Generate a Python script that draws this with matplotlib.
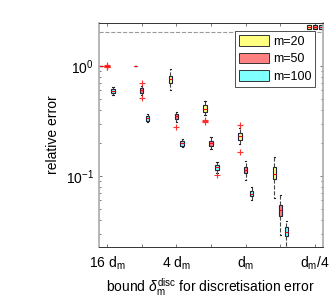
import numpy as np
import matplotlib
matplotlib.use('Agg')
import matplotlib.pyplot as plt
from matplotlib.patches import Patch
from matplotlib.ticker import FixedLocator, NullFormatter

plt.rcParams['font.family'] = ['Liberation Sans', 'DejaVu Sans']
plt.rcParams['mathtext.fontset'] = 'custom'
plt.rcParams['mathtext.rm'] = 'Liberation Sans'
plt.rcParams['mathtext.it'] = 'Liberation Sans:italic'

# discretisation bounds (groups) and labels
groups = ['16 d_m', '8 d_m', '4 d_m', '2 d_m', 'd_m', 'd_m/2', 'd_m/4']
xticklabels = ['16 d$_\\mathregular{m}$', '', '4 d$_\\mathregular{m}$', '',
               'd$_\\mathregular{m}$', '', 'd$_\\mathregular{m}$/4']
series = ['m=20', 'm=50', 'm=100']
colors = ['#ffff80', '#ff8080', '#80ffff']

# box statistics, last group lies in the compressed zone
m20_q1 = [1.0, 1.0, 0.705, 0.380, 0.212, 0.0933, 2.15]
m20_med = [1.0, 1.0, 0.757, 0.410, 0.230, 0.104, 2.25]
m20_q3 = [1.0, 1.0, 0.811, 0.442, 0.248, 0.120, 2.35]
m20_lo = [1.0, 1.0, 0.605, 0.358, 0.195, 0.0628, 2.15]
m20_hi = [1.0, 1.0, 0.939, 0.484, 0.273, 0.148, 2.35]
m20_out = [[], [], [], [0.31, 0.315, 0.32], [0.291, 0.165], [], []]

m50_q1 = [1.0, 0.572, 0.330, 0.188, 0.107, 0.0435, 2.15]
m50_med = [1.0, 0.603, 0.348, 0.199, 0.114, 0.049, 2.25]
m50_q3 = [1.0, 0.635, 0.366, 0.210, 0.1215, 0.0545, 2.35]
m50_lo = [1.0, 0.545, 0.312, 0.178, 0.0921, 0.0291, 2.15]
m50_hi = [1.0, 0.658, 0.384, 0.225, 0.138, 0.0672, 2.35]
m50_out = [[0.98, 0.99, 1.0, 1.01, 1.02], [0.696, 0.508], [0.277], [], [], [], []]

m100_q1 = [0.574, 0.318, 0.189, 0.1135, 0.0658, 0.0287, 2.15]
m100_med = [0.596, 0.335, 0.198, 0.120, 0.069, 0.031, 2.25]
m100_q3 = [0.618, 0.351, 0.208, 0.126, 0.0731, 0.0342, 2.35]
m100_lo = [0.545, 0.308, 0.183, 0.107, 0.0605, 0.0225, 2.15]
m100_hi = [0.651, 0.366, 0.217, 0.134, 0.0794, 0.039, 2.35]
m100_out = [[], [], [], [0.102], [], [], []]

data_lim = 2.05

all_stats = [
    (m20_q1, m20_med, m20_q3, m20_lo, m20_hi, m20_out),
    (m50_q1, m50_med, m50_q3, m50_lo, m50_hi, m50_out),
    (m100_q1, m100_med, m100_q3, m100_lo, m100_hi, m100_out),
]
offsets = [-0.17, 0.0, 0.17]

fig = plt.figure(figsize=(3.32, 3.04), dpi=100)
ax = fig.add_axes([0.297, 0.1885, 0.676, 0.7345])

pos = np.arange(1, len(groups) + 1)
for (q1, med, q3, lo, hi, out), col, off in zip(all_stats, colors, offsets):
    stats = []
    for i in range(len(groups)):
        stats.append(dict(q1=q1[i], med=med[i], q3=q3[i], whislo=lo[i],
                          whishi=hi[i], fliers=out[i]))
    ax.bxp(stats, positions=pos + off, widths=0.1, patch_artist=True,
           showfliers=True, capwidths=0.04,
           boxprops=dict(facecolor=col, edgecolor='#202040', linewidth=0.8),
           medianprops=dict(color='r', linewidth=0.8),
           whiskerprops=dict(color='#444444', linestyle='--', linewidth=0.8),
           capprops=dict(color='#222222', linewidth=0.8),
           flierprops=dict(marker='+', markeredgecolor='#ff3030',
                           markersize=5, markeredgewidth=0.8))

ax.axhline(data_lim, color='#999999', linestyle='--', linewidth=0.8)

ax.set_yscale('log')
ax.set_ylim(0.0228, 2.44)
ax.set_xlim(0.76, 7.23)
ax.set_xticks(pos)
ax.set_xticklabels(xticklabels, fontsize=10)
ax.yaxis.set_major_locator(FixedLocator([0.1, 1.0]))
minors = [k * 10.0 ** e for e in (-2, -1) for k in range(2, 10)]
ax.yaxis.set_minor_locator(FixedLocator([v for v in minors if v > 0.0228]))
ax.yaxis.set_minor_formatter(NullFormatter())
ax.tick_params(axis='both', which='both', direction='in', top=True,
               right=True, labelsize=10, length=2.5, width=0.5,
               color='#444444')
ax.tick_params(axis='y', which='minor', length=1.5)
ax.tick_params(axis='x', pad=6)

for side in ['left', 'right']:
    ax.spines[side].set_color('#aaaaaa')
    ax.spines[side].set_linewidth(1.2)
for side in ['top', 'bottom']:
    ax.spines[side].set_color('#333333')
    ax.spines[side].set_linewidth(0.7)

ax.set_ylabel('relative error', fontsize=10, labelpad=4)
ax.set_xlabel('bound $\\delta_\\mathregular{m}^\\mathregular{disc}$ for discretisation error',
              fontsize=10, labelpad=3)

handles = [Patch(facecolor=c, edgecolor='#333333', linewidth=0.7) for c in colors]
leg = ax.legend(handles, series, loc='upper right', bbox_to_anchor=(0.964, 0.9655),
                borderaxespad=0, fontsize=9, fancybox=False, framealpha=1,
                handlelength=2.4, handleheight=0.95, borderpad=0.3,
                labelspacing=0.4, handletextpad=0.3)
leg.get_frame().set_edgecolor('#333333')
leg.get_frame().set_linewidth(0.6)

fig.savefig('out.png', dpi=100)
